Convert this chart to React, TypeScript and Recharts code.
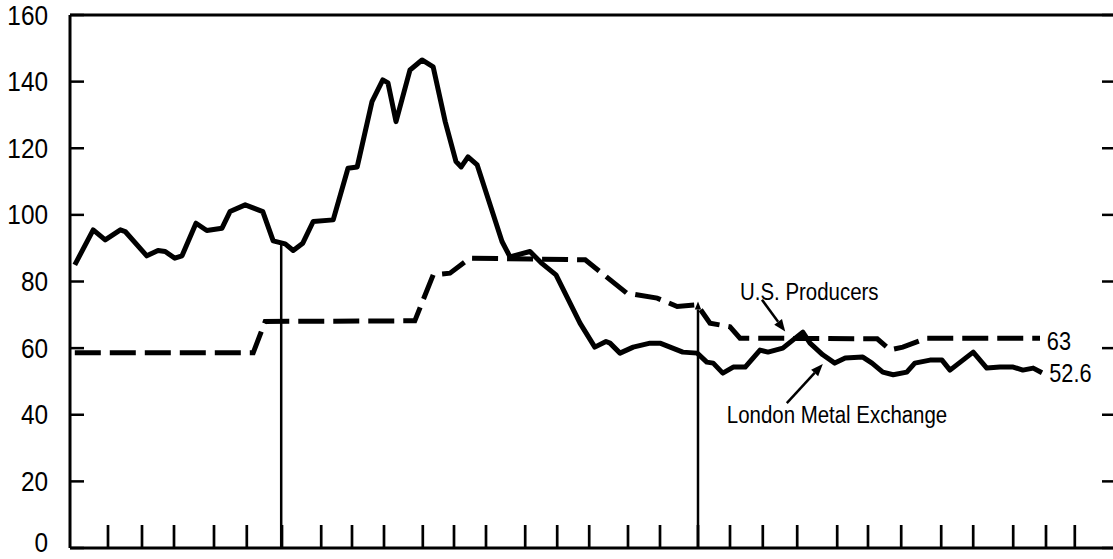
import { LineChart, Line, XAxis, YAxis, ReferenceLine, ReferenceDot } from "recharts";

const WIDTH = 1113;
const HEIGHT = 559;
const PLOT_LEFT = 70;
const PLOT_RIGHT = WIDTH;
const PX_PER_WEEK = 8;
const X_MAX = (PLOT_RIGHT - PLOT_LEFT) / PX_PER_WEEK;

const FONT = "'Liberation Sans', Arial, sans-serif";
// the original lettering is a condensed gothic; squeeze a regular sans to match
const SQUEEZE = 0.87;

// London Metal Exchange, x in weeks from the left edge of the chart
const lmeWeeks = [
  0.6, 2.9, 4.4, 6.3, 6.9, 9.6, 11, 11.9, 13.1, 14, 15.75, 17.1, 19, 20, 21.9, 24.1, 25.4,
  26.9, 27.9, 29.1, 30.4, 32.9, 34.75, 35.9, 37.75, 39.1, 39.75, 40.75, 42.5, 44, 45.4,
  46.9, 48.25, 48.9, 49.75, 50.9, 54, 55, 57.5, 58.9, 60.75, 63.75, 65.6, 67, 67.5, 68.75,
  70.4, 72.5, 73.75, 76.6, 78.4, 79.6, 80.4, 81.6, 82.9, 84.4, 86.25, 87.25, 89.1, 91.6,
  92.5, 94.1, 95.6, 96.9, 99.1, 100.25, 101.6, 102.9, 104.6, 105.6, 107.5, 109, 110, 112.9,
  114.6, 116.25, 117.9, 119.1, 120.4, 121.5,
];
const lmeValues = [
  85, 95.5, 92.5, 95.5, 95, 87.7, 89.3, 89, 87, 87.7, 97.5, 95.3, 96, 101, 103, 101, 92.2,
  91.3, 89.3, 91.5, 98, 98.5, 114, 114.4, 134, 140.5, 139.6, 128, 143.5, 146.5, 144.4,
  128, 116, 114.4, 117.4, 115, 92, 87.4, 89, 85.6, 82, 67.5, 60.3, 62, 61.5, 58.5,
  60.3, 61.5, 61.5, 58.8, 58.5, 55.8, 55.5, 52.5, 54.3, 54.3, 59.4, 58.8, 60, 64.8,
  61.5, 58, 55.5, 57, 57.3, 55.5, 52.8, 52, 52.8, 55.5, 56.4, 56.4, 53.4, 58.8,
  54, 54.3, 54.3, 53.4, 54, 52.6,
];

// U.S. Producers
const usWeeks = [
  0.6, 22.9, 24.4, 43.1, 45.4, 47.5, 50, 64.4, 69.6, 73.4, 75.9, 78.4, 80, 82.5, 83.75,
  100.9, 102.5, 104.1, 107.1, 121.25,
];
const usValues = [
  58.6, 58.6, 68, 68.2, 82, 82.5, 87, 86.5, 76.5, 75, 72.5, 73, 67.5, 66.4, 63,
  62.8, 59.5, 60.3, 63, 63,
];

// month marks along the bottom (weeks)
const monthTicks = [
  4.75, 9, 13, 18, 22.1, 26.5, 31.4, 35.25, 39.25, 44.1, 48, 52, 56.9, 60.9, 64.9, 69.75,
  73.75, 78.5, 82.5, 86.6, 90.9, 95.9, 99.75, 103.9, 108.9, 112.9, 117.9, 122, 125.6,
];
const yTicks = [0, 20, 40, 60, 80, 100, 120, 140, 160];

const lmeData = lmeWeeks.map((w, i) => ({ w, v: lmeValues[i] }));
const usData = usWeeks.map((w, i) => ({ w, v: usValues[i] }));

function NarrowText({ x, y, size, anchor = "start", children }: any) {
  return (
    <text
      transform={`translate(${x},${y}) scale(${SQUEEZE},1)`}
      x={0}
      y={0}
      textAnchor={anchor}
      dominantBaseline="central"
      fontFamily={FONT}
      fontSize={size}
      fill="#000"
    >
      {children}
    </text>
  );
}

function YTick(props: any) {
  const { x, y, payload } = props;
  const axisX = x + 22;
  return (
    <g>
      <line x1={axisX} x2={axisX + 14} y1={y} y2={y} stroke="#000" strokeWidth={2.5} />
      <line x1={PLOT_RIGHT - 11} x2={PLOT_RIGHT} y1={y} y2={y} stroke="#000" strokeWidth={2.5} />
      <NarrowText x={x} y={payload.value === 0 ? y - 6 : y} size={28} anchor="end">
        {payload.value}
      </NarrowText>
    </g>
  );
}

function XTick(props: any) {
  const { x, y } = props;
  return <line x1={x} x2={x} y1={y} y2={y - 23} stroke="#000" strokeWidth={2.7} />;
}

function Arrow(props: any) {
  const { x1, y1, x2, y2, head = 12, width = 2.5 } = props;
  const ang = Math.atan2(y2 - y1, x2 - x1);
  const hw = head * 0.4;
  const bx = x2 - Math.cos(ang) * head;
  const by = y2 - Math.sin(ang) * head;
  const px = -Math.sin(ang) * hw;
  const py = Math.cos(ang) * hw;
  return (
    <g>
      <line x1={x1} y1={y1} x2={bx} y2={by} stroke="#000" strokeWidth={width} />
      <polygon points={`${x2},${y2} ${bx + px},${by + py} ${bx - px},${by - py}`} fill="#000" />
    </g>
  );
}

function Annot(text: string, size: number) {
  return (p: any) => (
    <NarrowText x={p.cx} y={p.cy} size={size}>
      {text}
    </NarrowText>
  );
}

export default function App() {
  return (
    <div
      style={{
        position: "absolute",
        left: 0,
        top: 0,
        width: WIDTH,
        height: HEIGHT,
        background: "#fff",
      }}
    >
      <LineChart
        width={WIDTH}
        height={HEIGHT}
        margin={{ top: 15, right: 0, bottom: 0, left: 0 }}
      >
        <XAxis
          dataKey="w"
          type="number"
          domain={[0, X_MAX]}
          allowDataOverflow
          ticks={monthTicks}
          interval={0}
          height={11}
          tickSize={0}
          tickMargin={0}
          tick={<XTick />}
          tickLine={false}
          axisLine={{ stroke: "#000", strokeWidth: 3 }}
        />
        <YAxis
          type="number"
          domain={[0, 160]}
          ticks={yTicks}
          interval={0}
          width={PLOT_LEFT}
          tickSize={0}
          tickMargin={22}
          tick={<YTick />}
          tickLine={false}
          axisLine={{ stroke: "#000", strokeWidth: 3 }}
        />
        <ReferenceLine y={160} stroke="#000" strokeWidth={3} />
        <Line
          data={usData}
          dataKey="v"
          type="linear"
          stroke="#000"
          strokeWidth={5}
          strokeDasharray="26 9"
          dot={false}
          isAnimationActive={false}
        />
        <Line
          data={lmeData}
          dataKey="v"
          type="linear"
          stroke="#000"
          strokeWidth={5}
          strokeLinejoin="round"
          dot={false}
          isAnimationActive={false}
        />
        <ReferenceLine
          segment={[{ x: 26.4, y: 0 }, { x: 26.4, y: 91.5 }]}
          stroke="#000"
          strokeWidth={2.5}
        />
        <ReferenceLine
          segment={[{ x: 78.5, y: 0 }, { x: 78.5, y: 74 }]}
          shape={(p: any) => <Arrow {...p} head={8} />}
        />
        <ReferenceLine
          segment={[{ x: 86.5, y: 74.5 }, { x: 89.4, y: 65 }]}
          shape={(p: any) => <Arrow {...p} />}
        />
        <ReferenceLine
          segment={[{ x: 89.6, y: 43.5 }, { x: 94.1, y: 55.2 }]}
          shape={(p: any) => <Arrow {...p} />}
        />
        <ReferenceDot x={83.75} y={76.9} r={0} shape={Annot("U.S. Producers", 23.5)} />
        <ReferenceDot x={82.1} y={40} r={0} shape={Annot("London Metal Exchange", 23.5)} />
        <ReferenceDot x={122.1} y={62} r={0} shape={Annot("63", 25)} />
        <ReferenceDot x={122.4} y={52.5} r={0} shape={Annot("52.6", 25)} />
      </LineChart>
    </div>
  );
}
